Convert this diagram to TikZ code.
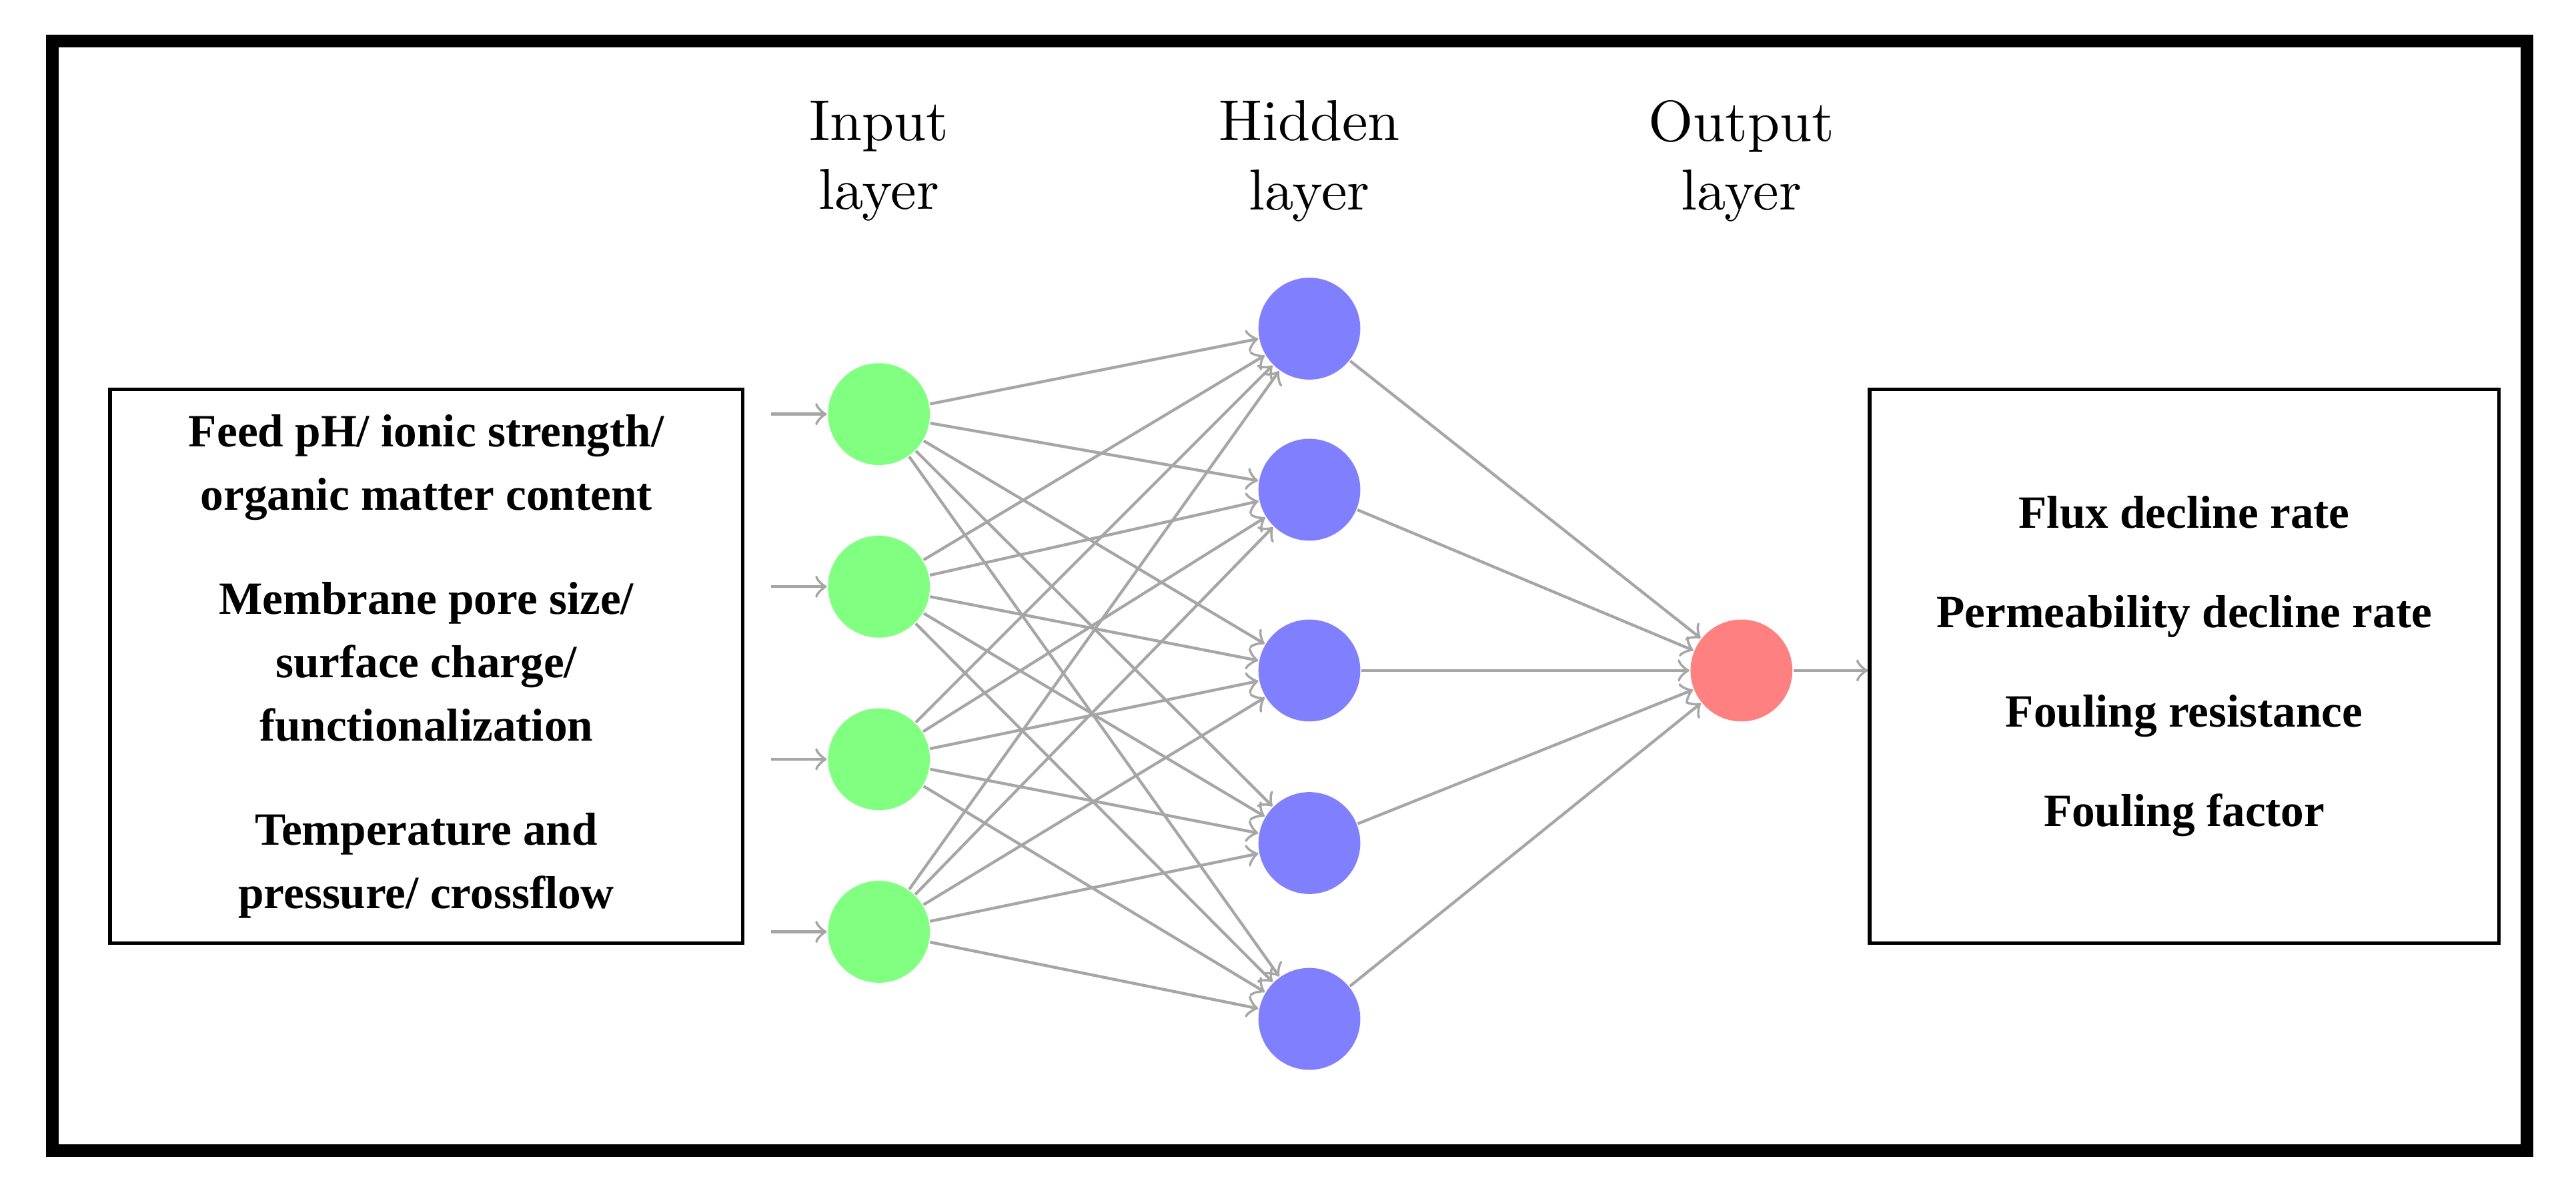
\documentclass[tikz,border=0pt]{standalone}
\usepackage{fontspec}
\newfontfamily\boxfont{Liberation Serif}
\usetikzlibrary{positioning}
\tikzset{
  neuron/.style={circle, minimum size=0.62cm, inner sep=0pt},
  neuronI/.style={neuron, fill=green!50},
  neuronH/.style={neuron, fill=blue!50},
  neuronO/.style={neuron, fill=red!50},
  edge/.style={->, >=to, draw=gray!70, line width=0.5pt},
  layerLabel/.style={align=center, font=\fontsize{10}{12}\selectfont},
  infoBox/.style={draw=black, line width=0.6pt, align=center, font=\boxfont\bfseries\fontsize{8}{11}\selectfont}
}
\begin{document}
\begin{tikzpicture}
\useasboundingbox (0,0) rectangle (15.68,7.22);
\fill[black!60] (0.36,0.18) rectangle (15.42,6.93);
\draw[line width=2.2pt, fill=white] (0.32,0.22) rectangle (15.38,6.97);

% input layer
\foreach \i/\y in {1/4.70, 2/3.65, 3/2.60, 4/1.55}
  \node[neuronI] (I\i) at (5.35,\y) {};
% hidden layer
\foreach \j/\y in {1/5.22, 2/4.24, 3/3.14, 4/2.09, 5/1.02}
  \node[neuronH] (H\j) at (7.97,\y) {};
% output layer
\node[neuronO] (O) at (10.60,3.14) {};

\node[layerLabel] at (5.35,6.24) {Input\\layer};
\node[layerLabel] at (7.97,6.24) {Hidden\\layer};
\node[layerLabel] at (10.60,6.24) {Output\\layer};

\foreach \i in {1,...,4} {
  \coordinate (in\i) at ([xshift=-0.34cm]I\i.west);
  \draw[edge] (in\i) -- (I\i);
  \foreach \j in {1,...,5}
    \draw[edge] (I\i) -- (H\j);
}
\foreach \j in {1,...,5}
  \draw[edge] (H\j) -- (O);

\node[infoBox, minimum width=3.85cm, minimum height=3.37cm] (inputs) at (2.595,3.165) {%
Feed pH/ ionic strength/\\organic matter content\\[7pt]
Membrane pore size/\\surface charge/\\functionalization\\[7pt]
Temperature and\\pressure/ crossflow};
\node[infoBox, minimum width=3.83cm, minimum height=3.37cm, font=\boxfont\bfseries\fontsize{8}{17.2}\selectfont] (outputs) at (13.295,3.165) {%
Flux decline rate\\Permeability decline rate\\Fouling resistance\\Fouling factor};

\draw[edge] (O) -- (O -| outputs.west);
\end{tikzpicture}
\end{document}
